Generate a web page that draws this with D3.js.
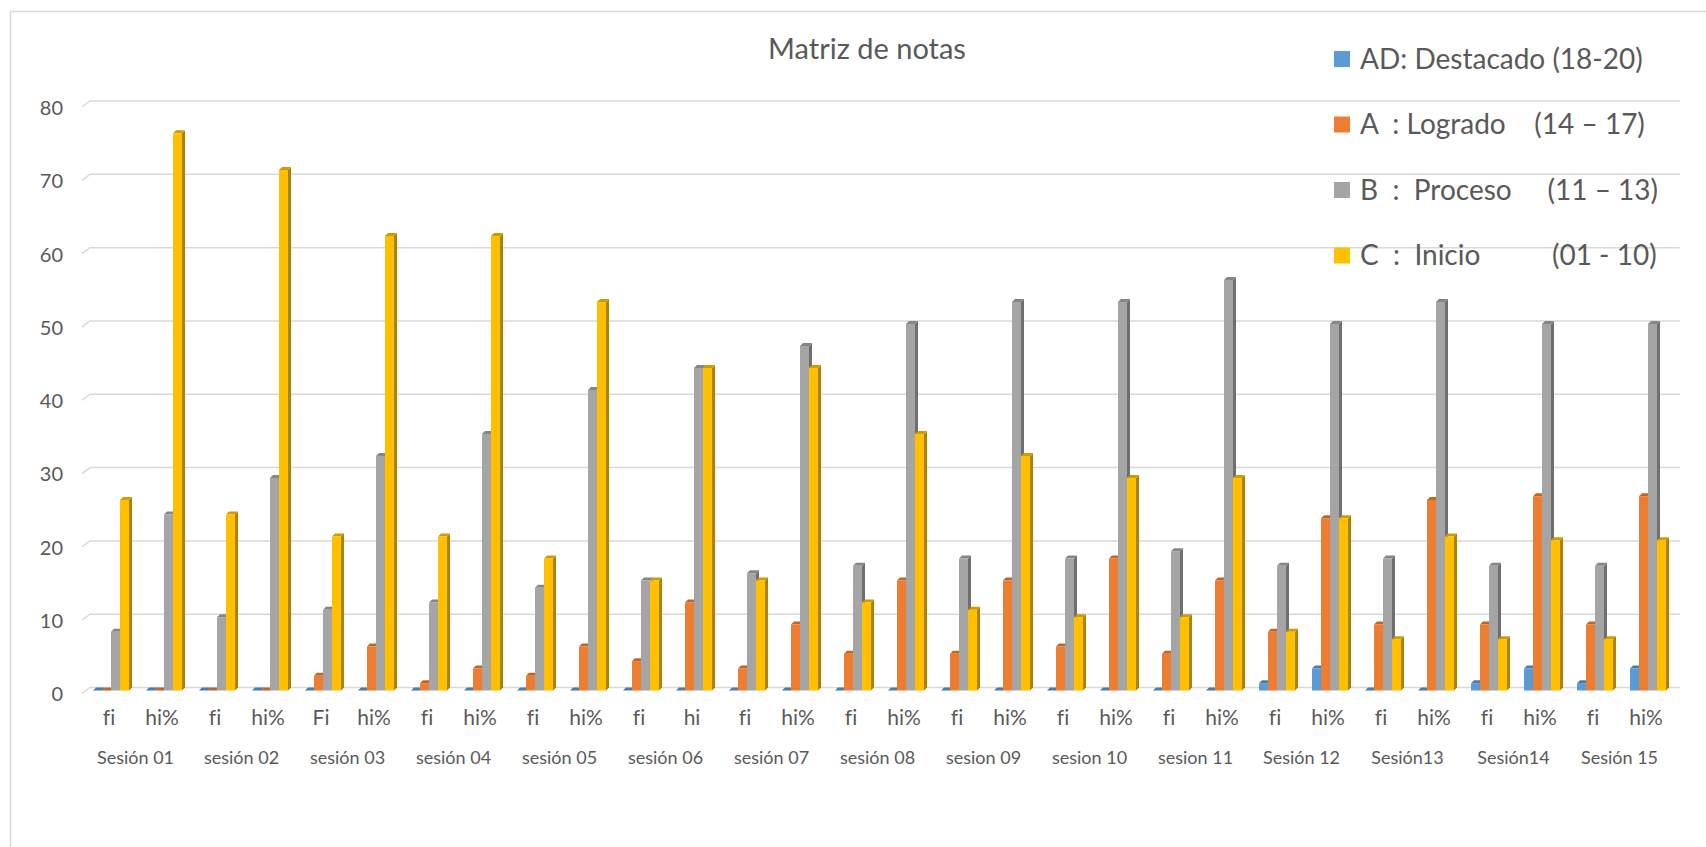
<!DOCTYPE html>
<html>
<head>
<meta charset="utf-8">
<script src="https://cdn.jsdelivr.net/npm/d3@7"></script>
<style>
  body { margin: 0; background: #fff; }
  svg { display: block; font-family: Lato, "Noto Sans", sans-serif; }
  svg text { font-variant-ligatures: none; font-feature-settings: "liga" 0; }
  .legend text { white-space: pre; }
</style>
</head>
<body>
<div class="chart"></div>
<script>
// data
var sessions = ["Sesión 01", "sesión 02", "sesión 03", "sesión 04", "sesión 05",
  "sesión 06", "sesión 07", "sesión 08", "sesion 09", "sesion 10",
  "sesion 11", "Sesión 12", "Sesión13", "Sesión14", "Sesión 15"];

var catLabels = ["fi", "hi%", "fi", "hi%", "Fi", "hi%", "fi", "hi%", "fi", "hi%",
  "fi", "hi", "fi", "hi%", "fi", "hi%", "fi", "hi%", "fi", "hi%",
  "fi", "hi%", "fi", "hi%", "fi", "hi%", "fi", "hi%", "fi", "hi%"];

var seriesNames = ["AD: Destacado (18-20)", "A  : Logrado    (14 – 17)",
  "B  :  Proceso     (11 – 13)", "C  :  Inicio          (01 - 10)"];

var adValues = [0, 0, 0, 0, 0, 0, 0, 0, 0, 0, 0, 0, 0, 0, 0,
  0, 0, 0, 0, 0, 0, 0, 1, 3, 0, 0, 1, 3, 1, 3];
var aValues = [0, 0, 0, 0, 2, 6, 1, 3, 2, 6, 4, 12, 3, 9, 5,
  15, 5, 15, 6, 18, 5, 15, 8, 23.5, 9, 26, 9, 26.5, 9, 26.5];
var bValues = [8, 24, 10, 29, 11, 32, 12, 35, 14, 41, 15, 44, 16, 47, 17,
  50, 18, 53, 18, 53, 19, 56, 17, 50, 18, 53, 17, 50, 17, 50];
var cValues = [26, 76, 24, 71, 21, 62, 21, 62, 18, 53, 15, 44, 15, 44, 12,
  35, 11, 32, 10, 29, 10, 29, 8, 23.5, 7, 21, 7, 20.5, 7, 20.5];

var yTicks = [0, 10, 20, 30, 40, 50, 60, 70, 80];

var colors = ["#5B9BD5", "#ED7D31", "#A5A5A5", "#FFC000"];
var allSeries = [adValues, aValues, bValues, cValues];

var svgWidth = 1706;
var svgHeight = 847;

var svg = d3.select(".chart")
  .append("svg")
  .attr("width", svgWidth)
  .attr("height", svgHeight);

// chart area border (only top and left are in the picture)
svg.append("path")
  .attr("d", "M10.5,847 V11.5 H1706")
  .attr("fill", "none")
  .attr("stroke", "#d9d9d9")
  .attr("stroke-width", 1.5);

// scales - back wall for gridlines, bars sit 3px lower (3d look)
var yScale = d3.scaleLinear().domain([0, 80]).range([687.5, 101]);
var depth = 3;

var xScale = d3.scaleBand()
  .domain(d3.range(catLabels.length))
  .range([82.5, 1672.5]);

// gridlines with the little slanted floor edge
var grid = svg.append("g").attr("class", "grid");
grid.selectAll("path")
  .data(yTicks)
  .enter()
  .append("path")
  .attr("d", function (d) {
    var y = yScale(d);
    return "M82," + (y + 6) + " L90," + y + " H1680";
  })
  .attr("fill", "none")
  .attr("stroke", "#d9d9d9")
  .attr("stroke-width", 1.5);

// y axis labels
var leftAxis = d3.axisLeft(yScale).tickValues(yTicks).tickSize(0).tickPadding(0);
var yAxis = svg.append("g")
  .attr("transform", "translate(63, 7)")
  .call(leftAxis);
yAxis.select(".domain").remove();
yAxis.selectAll("text")
  .attr("fill", "#595959")
  .attr("font-size", 20)
  .attr("font-family", "Lato, sans-serif");

// bars
var barW = 9;
function shade(c, k) {
  return d3.color(c).darker(k).formatHex();
}

var bars = svg.append("g").attr("class", "bars");
d3.range(catLabels.length).forEach(function (i) {
  var cx = xScale(i) + xScale.bandwidth() / 2;
  allSeries.forEach(function (vals, s) {
    var v = vals[i];
    var x0 = cx - 16 + s * barW;
    var yb = yScale(0) + depth;
    var yt = yScale(v) + depth;
    var g = bars.append("g");
    // side
    g.append("path")
      .attr("d", "M" + (x0 + barW) + "," + yb + " L" + (x0 + barW) + "," + yt +
        " L" + (x0 + barW + depth) + "," + (yt - depth) +
        " L" + (x0 + barW + depth) + "," + (yb - depth) + " Z")
      .attr("fill", shade(colors[s], 1.1));
    // top
    g.append("path")
      .attr("d", "M" + x0 + "," + yt + " L" + (x0 + barW) + "," + yt +
        " L" + (x0 + barW + depth) + "," + (yt - depth) +
        " L" + (x0 + depth) + "," + (yt - depth) + " Z")
      .attr("fill", shade(colors[s], 0.6));
    // front
    g.append("rect")
      .attr("x", x0)
      .attr("y", yt)
      .attr("width", barW)
      .attr("height", Math.max(yb - yt, 0))
      .attr("fill", colors[s]);
  });
});

// category labels
var bottomAxis = d3.axisBottom(xScale)
  .tickSize(0)
  .tickFormat(function (d) { return catLabels[d]; });
var xAxis = svg.append("g")
  .attr("transform", "translate(0, 707)")
  .call(bottomAxis);
xAxis.select(".domain").remove();
xAxis.selectAll("text")
  .attr("fill", "#595959")
  .attr("font-size", 21)
  .attr("font-family", "Lato, sans-serif");

// session labels
svg.append("g")
  .selectAll("text")
  .data(sessions)
  .enter()
  .append("text")
  .attr("x", function (d, i) { return xScale(i * 2) + xScale.bandwidth(); })
  .attr("y", 758)
  .attr("dy", "0.35em")
  .attr("text-anchor", "middle")
  .attr("fill", "#595959")
  .attr("font-size", 18)
  .text(function (d) { return d; });

// title
svg.append("text")
  .attr("x", 867)
  .attr("y", 49)
  .attr("dy", "0.35em")
  .attr("text-anchor", "middle")
  .attr("fill", "#595959")
  .attr("font-size", 29)
  .text("Matriz de notas");

// legend
var legend = svg.append("g").attr("class", "legend")
  .attr("transform", "translate(1334, 59)");
var items = legend.selectAll("g")
  .data(seriesNames)
  .enter()
  .append("g")
  .attr("transform", function (d, i) { return "translate(0," + i * 65.5 + ")"; });
items.append("rect")
  .attr("x", 0)
  .attr("y", -8)
  .attr("width", 16)
  .attr("height", 16)
  .attr("fill", function (d, i) { return colors[i]; });
items.append("text")
  .attr("x", 26)
  .attr("y", 0)
  .attr("dy", "0.35em")
  .attr("fill", "#595959")
  .attr("font-size", 28)
  .text(function (d) { return d; });
</script>
</body>
</html>
